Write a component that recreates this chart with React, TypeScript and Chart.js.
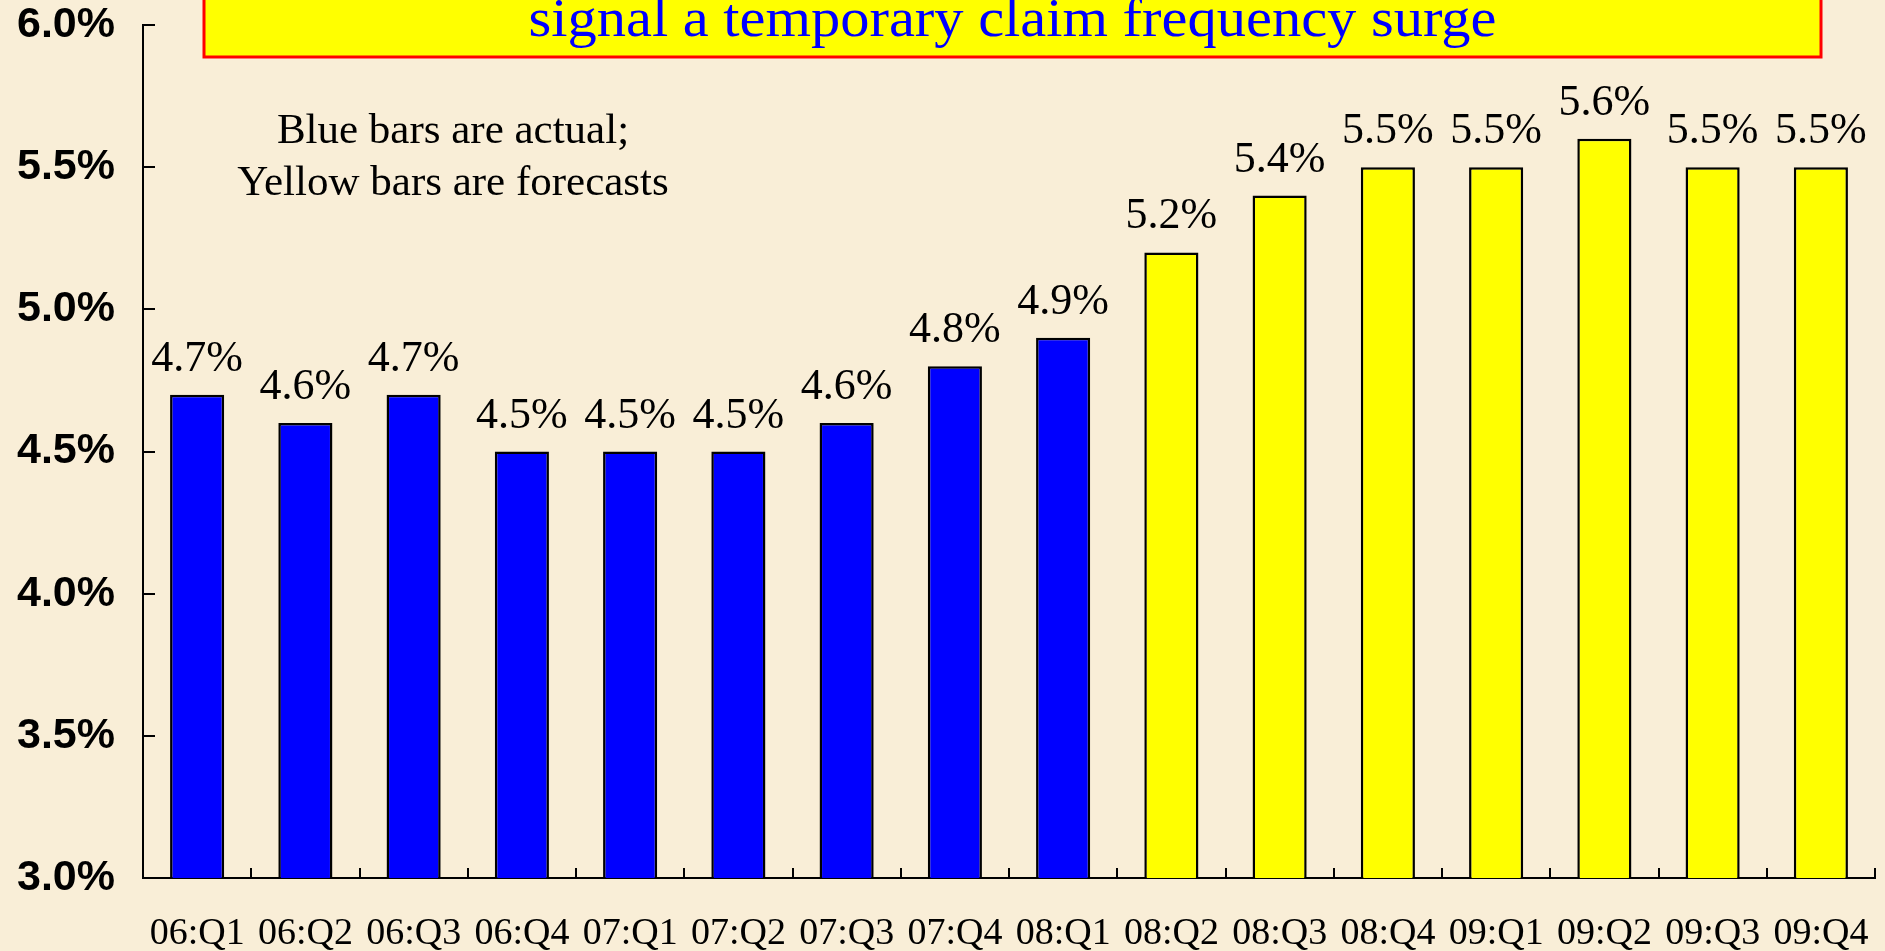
import React, { useEffect, useRef } from "react";
import { Chart, registerables } from "chart.js";

Chart.register(...registerables);

const categories = [
  "06:Q1", "06:Q2", "06:Q3", "06:Q4",
  "07:Q1", "07:Q2", "07:Q3", "07:Q4",
  "08:Q1", "08:Q2", "08:Q3", "08:Q4",
  "09:Q1", "09:Q2", "09:Q3", "09:Q4",
];

const actualValues = [4.7, 4.6, 4.7, 4.5, 4.5, 4.5, 4.6, 4.8, 4.9, null, null, null, null, null, null, null];
const forecastValues = [null, null, null, null, null, null, null, null, null, 5.2, 5.4, 5.5, 5.5, 5.6, 5.5, 5.5];

const yMin = 3.0;
const yMax = 6.0;
const yStep = 0.5;

const titleText = "signal a temporary claim frequency surge";
const noteLines = ["Blue bars are actual;", "Yellow bars are forecasts"];

const SERIF = "'Liberation Serif', 'Times New Roman', serif";
const SANS = "'Liberation Sans', Arial, sans-serif";

const decorPlugin = {
  id: "decor",
  beforeDraw(chart: any) {
    const ctx = chart.ctx;
    ctx.save();
    ctx.fillStyle = "#F9EED7";
    ctx.fillRect(0, 0, chart.width, chart.height);
    ctx.restore();
  },
  afterDraw(chart: any) {
    const ctx = chart.ctx;
    const { left, bottom } = chart.chartArea;
    const xs = chart.scales.x;
    const ys = chart.scales.y;
    ctx.save();
    ctx.strokeStyle = "#000";
    ctx.lineWidth = 2;
    // inward y ticks
    ys.ticks.forEach((_t: any, i: number) => {
      const py = Math.round(ys.getPixelForTick(i));
      ctx.beginPath();
      ctx.moveTo(left, py);
      ctx.lineTo(left + 12, py);
      ctx.stroke();
    });
    // inward x ticks at category boundaries
    for (let i = 0; i <= categories.length; i++) {
      const px = Math.round(xs.getPixelForValue(i - 0.5));
      ctx.beginPath();
      ctx.moveTo(px, bottom);
      ctx.lineTo(px, bottom - 10);
      ctx.stroke();
    }
    // value labels
    ctx.fillStyle = "#000";
    ctx.font = `44px ${SERIF}`;
    ctx.textAlign = "center";
    ctx.textBaseline = "alphabetic";
    chart.data.datasets.forEach((ds: any, di: number) => {
      const meta = chart.getDatasetMeta(di);
      meta.data.forEach((el: any, i: number) => {
        const v = ds.data[i];
        if (v === null || v === undefined) return;
        ctx.fillText(`${Number(v).toFixed(1)}%`, el.x, el.y - 24);
      });
    });
    // note
    ctx.font = `43px ${SERIF}`;
    ctx.fillText(noteLines[0], 453, 143);
    ctx.fillText(noteLines[1], 453, 195);
    // title box
    ctx.fillStyle = "#FFFF00";
    ctx.fillRect(204, -10, 1821 - 204, 67);
    ctx.strokeStyle = "#FF0000";
    ctx.lineWidth = 3;
    ctx.strokeRect(204, -10, 1821 - 204, 67);
    ctx.fillStyle = "#0000FF";
    ctx.font = `54px ${SERIF}`;
    const w = ctx.measureText(titleText).width;
    const sx = 968 / w;
    ctx.translate(1012.5, 36);
    ctx.scale(sx, 1);
    ctx.fillText(titleText, 0, 0);
    ctx.restore();
  },
};

export default function App() {
  const ref = useRef<HTMLCanvasElement | null>(null);
  useEffect(() => {
    if (!ref.current) return;
    const chart = new Chart(ref.current, {
      type: "bar",
      data: {
        labels: categories,
        datasets: [
          {
            label: "Actual",
            data: actualValues,
            backgroundColor: "#0000FF",
            borderColor: "#000000",
            borderWidth: 2.5,
          },
          {
            label: "Forecast",
            data: forecastValues,
            backgroundColor: "#FFFF00",
            borderColor: "#000000",
            borderWidth: 2.5,
          },
        ],
      },
      options: {
        responsive: false,
        maintainAspectRatio: false,
        animation: false,
        layout: { padding: { top: 25, right: 10, left: 0, bottom: 0 } },
        datasets: {
          bar: { grouped: false, barPercentage: 0.5, categoryPercentage: 1 },
        } as any,
        plugins: {
          legend: { display: false },
          tooltip: { enabled: false },
          title: { display: false },
        },
        scales: {
          x: {
            offset: true,
            grid: { display: true, drawOnChartArea: false, drawTicks: false },
            border: { display: true, color: "#000", width: 2 },
            ticks: {
              color: "#000",
              font: { family: SERIF, size: 38 },
              padding: 33,
              maxRotation: 0,
              autoSkip: false,
            },
            afterFit: (s: any) => {
              s.height = 73;
              s.paddingLeft = 0;
              s.paddingRight = 0;
              s.paddingTop = 0;
              s.paddingBottom = 0;
            },
          },
          y: {
            min: yMin,
            max: yMax,
            grid: { display: true, drawOnChartArea: false, drawTicks: false },
            border: { display: true, color: "#000", width: 2 },
            ticks: {
              stepSize: yStep,
              color: "#000",
              font: { family: SANS, size: 43, weight: "bold" },
              padding: 28,
              callback: (v: any) => `${Number(v).toFixed(1)}%`,
            },
            afterFit: (s: any) => {
              s.width = 143;
              s.paddingLeft = 0;
              s.paddingRight = 0;
              s.paddingTop = 0;
              s.paddingBottom = 0;
            },
          },
        },
      },
      plugins: [decorPlugin],
    });
    return () => chart.destroy();
  }, []);
  return (
    <div style={{ position: "fixed", left: 0, top: 0, width: 1885, height: 951, background: "#F9EED7" }}>
      <canvas ref={ref} width={1885} height={951} style={{ display: "block" }} />
    </div>
  );
}
